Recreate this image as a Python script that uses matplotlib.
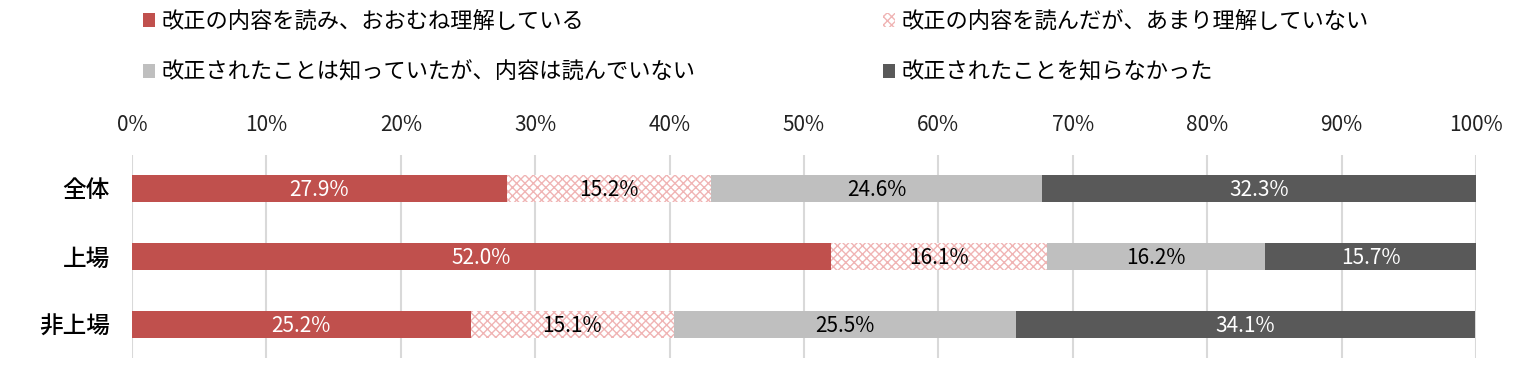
import matplotlib
matplotlib.use("Agg")
import matplotlib.pyplot as plt
from matplotlib.patches import Patch
import numpy as np

plt.rcParams['font.family'] = ['Noto Sans CJK JP', 'DejaVu Sans']
plt.rcParams['hatch.linewidth'] = 1.0

categories = ["全体", "上場", "非上場"]
series_names = [
    "改正の内容を読み、おおむね理解している",
    "改正の内容を読んだが、あまり理解していない",
    "改正されたことは知っていたが、内容は読んでいない",
    "改正されたことを知らなかった",
]
understood = [27.9, 52.0, 25.2]
read_not_understood = [15.2, 16.1, 15.1]
known_not_read = [24.6, 16.2, 25.5]
not_known = [32.3, 15.7, 34.1]
xticks = [0, 10, 20, 30, 40, 50, 60, 70, 80, 90, 100]

series = [understood, read_not_understood, known_not_read, not_known]
face = ["#c0504d", "white", "#bfbfbf", "#595959"]
edge = ["#c0504d", "#f0b4b4", "#bfbfbf", "#595959"]
hatches = [None, "xxxx", None, None]
text_col = ["white", "black", "black", "white"]

fig = plt.figure(figsize=(15.24, 3.78), dpi=100)
ax = fig.add_axes([132 / 1524, 1 - 358 / 378, (1476 - 132) / 1524, (358 - 155) / 378])

y = np.arange(len(categories))
left = np.zeros(len(categories))
handles = []
for vals, fc, ec, h, tc, name in zip(series, face, edge, hatches, text_col, series_names):
    vals = np.array(vals)
    ax.barh(y, vals, left=left, height=0.4, color=fc, edgecolor=ec,
            hatch=h, linewidth=0, zorder=3)
    for yi, l, v in zip(y, left, vals):
        ax.text(l + v / 2, yi + 0.02, f"{v:.1f}%", ha="center", va="center",
                fontsize=15, color=tc, zorder=4)
    handles.append(Patch(facecolor=fc, edgecolor=ec, hatch=h, linewidth=0, label=name))
    left += vals

ax.set_xlim(0, 100)
ax.set_ylim(2.49, -0.49)
ax.set_yticks(y)
ax.set_yticklabels(categories, fontsize=17, fontweight="medium", color="black")
ax.set_xticks(xticks)
ax.set_xticklabels([f"{t}%" for t in xticks], fontsize=15, color="#222222")
ax.xaxis.tick_top()
ax.tick_params(axis="both", length=0)
ax.tick_params(axis="x", pad=14)
ax.tick_params(axis="y", pad=16)
ax.grid(axis="x", color="#d9d9d9", linewidth=1.5, zorder=0)
for s in ax.spines.values():
    s.set_visible(False)

leg_kw = dict(frameon=False, fontsize=16, handlelength=0.55, handleheight=0.55,
              handletextpad=0.3, labelspacing=1.25, borderaxespad=0, borderpad=0)
fig.legend(handles=[handles[0], handles[2]], loc="upper left",
           bbox_to_anchor=(143 / 1524, 1 - 10 / 378), **leg_kw)
fig.legend(handles=[handles[1], handles[3]], loc="upper left",
           bbox_to_anchor=(883 / 1524, 1 - 10 / 378), **leg_kw)

fig.savefig("out.png", dpi=100)
